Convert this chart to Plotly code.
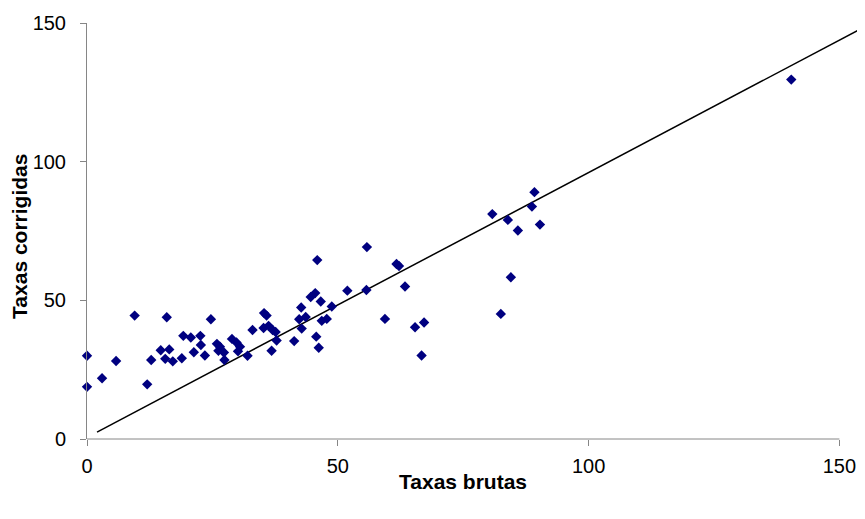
import plotly.graph_objects as go

# Scatter data: (Taxas brutas, Taxas corrigidas)
x_brutas = [0, 0, 3.0, 5.8, 9.5, 12.0, 12.8, 14.7, 15.9, 15.6, 16.4, 17.1, 18.9,
            19.2, 20.7, 21.3, 22.6, 22.7, 23.5, 24.7, 25.9, 26.5, 26.2, 27.3, 27.4,
            28.9, 29.8, 30.5, 30.1, 32.0, 33.0, 35.3, 35.8, 35.2, 36.2, 37.0, 37.6,
            36.8, 37.8, 41.3, 42.7, 42.3, 43.6, 42.8, 44.6, 45.5, 45.9, 46.6, 48.8,
            46.8, 47.8, 45.7, 46.2, 51.9, 55.7, 55.8, 61.7, 62.2, 63.4, 59.4, 65.4,
            67.2, 66.7, 80.8, 82.5, 83.9, 84.5, 85.9, 88.7, 89.2, 90.3, 140.4]
y_corrigidas = [30.0, 18.8, 21.9, 28.1, 44.5, 19.7, 28.5, 32.0, 43.9, 28.9, 32.3, 28.0, 29.1,
                37.2, 36.6, 31.3, 37.2, 33.9, 30.1, 43.2, 34.3, 33.3, 31.8, 31.2, 28.5,
                36.1, 34.8, 33.3, 31.6, 30.0, 39.3, 45.4, 44.5, 40.0, 40.8, 39.3, 38.6,
                31.8, 35.5, 35.3, 47.4, 43.2, 44.0, 39.8, 51.2, 52.6, 64.5, 49.6, 47.8,
                42.6, 43.3, 36.9, 32.9, 53.5, 53.7, 69.2, 63.1, 62.4, 55.0, 43.3, 40.3,
                42.0, 30.1, 81.1, 45.1, 79.0, 58.3, 75.2, 83.8, 89.0, 77.3, 129.6]

# Trend line end points
trend_x = [2.0, 155.1]
trend_y = [2.5, 148.7]

x_ticks = [0, 50, 100, 150]
y_ticks = [0, 50, 100, 150]

x_title = "Taxas brutas"
y_title = "Taxas corrigidas"

axis_color = "#868686"
font_family = "Liberation Sans, Arial, sans-serif"

fig = go.Figure()
fig.add_trace(go.Scatter(
    x=trend_x, y=trend_y, mode="lines",
    line=dict(color="black", width=1.5),
    hoverinfo="skip", showlegend=False))
fig.add_trace(go.Scatter(
    x=x_brutas, y=y_corrigidas, mode="markers",
    marker=dict(symbol="diamond", size=8, color="#000080", line=dict(width=0)),
    cliponaxis=False, showlegend=False))

fig.update_layout(
    width=857, height=511,
    margin=dict(l=79, r=0, t=15, b=80),
    paper_bgcolor="white", plot_bgcolor="white",
    font=dict(family=font_family, size=20, color="black"),
    xaxis=dict(range=[0, 155.1], tickvals=x_ticks, ticks="outside", ticklen=6,
               tickcolor=axis_color, showline=False, showgrid=False, zeroline=False,
               ticklabelstandoff=3, tickfont=dict(size=20)),
    yaxis=dict(range=[0, 150], tickvals=y_ticks, ticks="outside", ticklen=6,
               tickcolor=axis_color, showline=True, linecolor=axis_color, linewidth=1,
               showgrid=False, zeroline=False, ticklabelstandoff=10,
               tickfont=dict(size=20)),
    shapes=[dict(type="line", xref="x", yref="paper", x0=0, x1=150, y0=0, y1=0,
                 line=dict(color=axis_color, width=1), layer="above")],
    annotations=[
        dict(text="<b>%s</b>" % x_title, xref="x", yref="paper", x=75, y=-0.103,
             xanchor="center", yanchor="middle", showarrow=False,
             font=dict(size=21, family=font_family)),
        dict(text="<b>%s</b>" % y_title, xref="paper", yref="paper", x=-0.086, y=0.486,
             xanchor="center", yanchor="middle", textangle=-90, showarrow=False,
             font=dict(size=21, family=font_family)),
    ],
)

fig.write_html("out.html")
